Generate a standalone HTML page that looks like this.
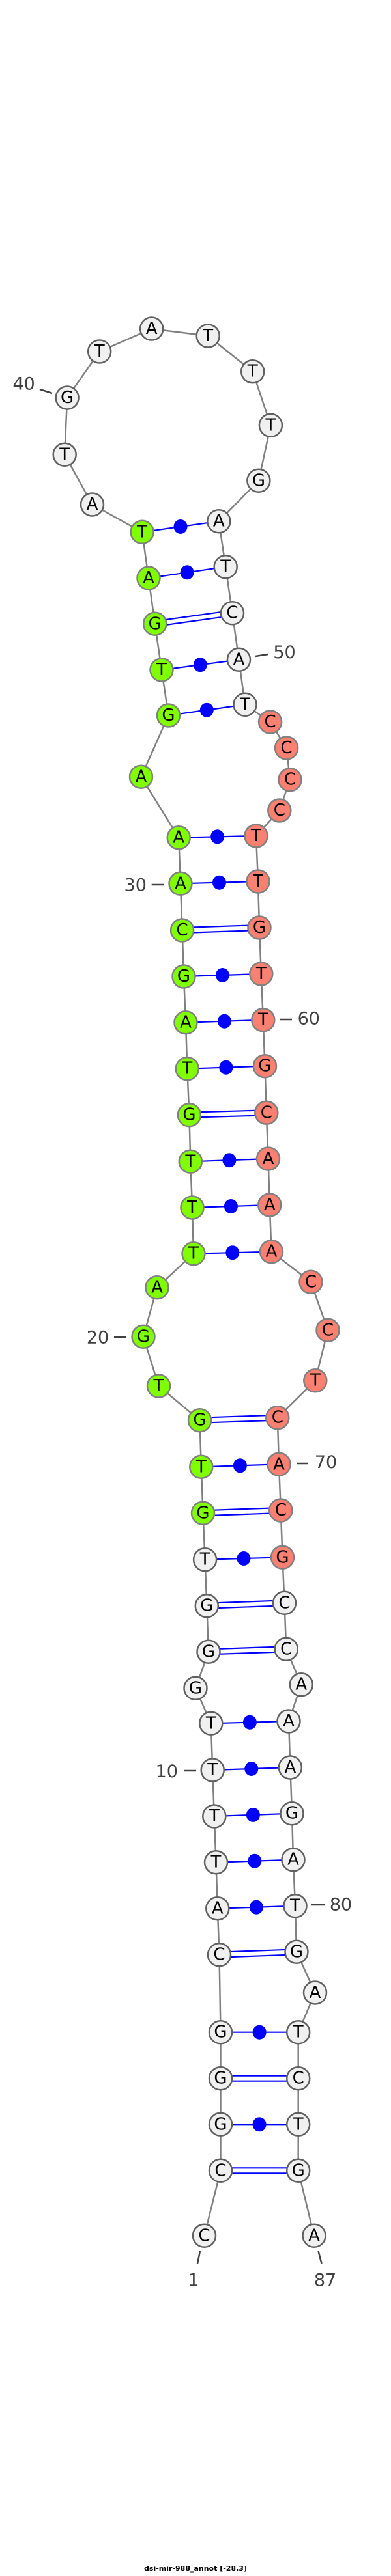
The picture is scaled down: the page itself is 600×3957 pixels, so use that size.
<!DOCTYPE html>
<html><head><meta charset="utf-8"><style>
html,body{margin:0;padding:0;background:#fff;}
svg{display:block;}
.bb{fill:none;stroke:#808080;stroke-width:2.5;}
.p{stroke:#0000ff;stroke-width:2.2;}
.d{fill:#0000ff;}
circle{stroke-width:2.5;}
.g{fill:#7fff00;stroke:#808080;}
.s{fill:#fa8072;stroke:#808080;}
.w{fill:#f0f0f0;stroke:#606060;}
.n text,text.n{font-family:"DejaVu Sans","Liberation Sans",sans-serif;font-size:26px;text-anchor:middle;dominant-baseline:central;fill:#000;}
.l{font-family:"DejaVu Sans","Liberation Sans",sans-serif;font-size:27px;fill:#404040;text-anchor:middle;dominant-baseline:central;}
.t{stroke:#404040;stroke-width:2.5;}
</style></head><body>
<svg width="600" height="3957" viewBox="0 0 600 3957" xmlns="http://www.w3.org/2000/svg">
<polyline class="bb" points="313.5,3434.3 338.5,3334.3 338.5,3263.3 338.5,3192.7 338.5,3121.7 336.5,3002.7 333.8,2931.7 331.5,2860.7 328.8,2790 326.2,2719 323.8,2647.3 300,2593.3 320,2537.3 317.3,2466.7 314.6,2395.7 311.5,2324.3 308.8,2253.3 306.5,2181.7 243.5,2129 220,2053.3 241,1977.7 297,1925.7 295,1855 292.3,1784.3 290.4,1712.7 287.3,1641.7 285,1570.7 282,1500 279.6,1429 277,1357.3 274.2,1286.7 216.5,1193.3 258.5,1099 248,1029 237.7,958.3 228,888 218.1,817.3 141.5,775 99.2,698.3 103.1,611 152.7,540 232.7,505 319.2,516 387.7,570.7 415.4,653.3 396.9,738.3 335.8,800.7 346.2,870.7 356.5,941.7 366.5,1013.3 376,1082.3 414.6,1109 439.6,1149 445,1197.7 428.8,1245 393,1284 396,1354 398,1425 400.8,1496 403.8,1566.7 406.5,1637.7 408.8,1709.3 411.5,1780 413.8,1851 416.5,1922.7 477,1969.3 503,2043.3 483.8,2120.7 425.8,2177.7 428,2249.3 430.8,2320 433.5,2392.3 436.5,2462.3 439.2,2533.3 462.3,2587.7 443,2644 445.4,2715 448,2785.7 450,2856.7 453,2927.7 455,2998.3 483.5,3061 457.7,3121.7 457.7,3192.7 457.7,3263.3 457.7,3334.3 482,3434.3"/>
<!-- pairs: double -->
<g class="p">
<line x1="338.5" y1="3330.3" x2="457.7" y2="3330.3"/><line x1="338.5" y1="3338.3" x2="457.7" y2="3338.3"/>
<line x1="338.5" y1="3188.7" x2="457.7" y2="3188.7"/><line x1="338.5" y1="3196.7" x2="457.7" y2="3196.7"/>
<line x1="336.5" y1="2998.7" x2="455" y2="2994.3"/><line x1="336.5" y1="3006.7" x2="455" y2="3002.3"/>
<line x1="320" y1="2533.3" x2="439.2" y2="2529.3"/><line x1="320" y1="2541.3" x2="439.2" y2="2537.3"/>
<line x1="317.3" y1="2462.7" x2="436.5" y2="2458.3"/><line x1="317.3" y1="2470.7" x2="436.5" y2="2466.3"/>
<line x1="311.5" y1="2320.3" x2="430.8" y2="2316"/><line x1="311.5" y1="2328.3" x2="430.8" y2="2324"/>
<line x1="306.5" y1="2177.7" x2="425.8" y2="2173.7"/><line x1="306.5" y1="2185.7" x2="425.8" y2="2181.7"/>
<line x1="290.4" y1="1708.7" x2="408.8" y2="1705.3"/><line x1="290.4" y1="1716.7" x2="408.8" y2="1713.3"/>
<line x1="279.6" y1="1425" x2="398" y2="1421"/><line x1="279.6" y1="1433" x2="398" y2="1429"/>
<line x1="237.7" y1="954.3" x2="356.5" y2="937.7"/><line x1="237.7" y1="962.3" x2="356.5" y2="945.7"/>
</g>
<!-- pairs: single with dot -->
<g class="p">
<line x1="338.5" y1="3263.3" x2="457.7" y2="3263.3"/>
<line x1="338.5" y1="3121.7" x2="457.7" y2="3121.7"/>
<line x1="333.8" y1="2931.7" x2="453" y2="2927.7"/>
<line x1="331.5" y1="2860.7" x2="450" y2="2856.7"/>
<line x1="328.8" y1="2790" x2="448" y2="2785.7"/>
<line x1="326.2" y1="2719" x2="445.4" y2="2715"/>
<line x1="323.8" y1="2647.3" x2="443" y2="2644"/>
<line x1="314.6" y1="2395.7" x2="433.5" y2="2392.3"/>
<line x1="308.8" y1="2253.3" x2="428" y2="2249.3"/>
<line x1="297" y1="1925.7" x2="416.5" y2="1922.7"/>
<line x1="295" y1="1855" x2="413.8" y2="1851"/>
<line x1="292.3" y1="1784.3" x2="411.5" y2="1780"/>
<line x1="287.3" y1="1641.7" x2="406.5" y2="1637.7"/>
<line x1="285" y1="1570.7" x2="403.8" y2="1566.7"/>
<line x1="282" y1="1500" x2="400.8" y2="1496"/>
<line x1="277" y1="1357.3" x2="396" y2="1354"/>
<line x1="274.2" y1="1286.7" x2="393" y2="1284"/>
<line x1="258.5" y1="1099" x2="376" y2="1082.3"/>
<line x1="248" y1="1029" x2="366.5" y2="1013.3"/>
<line x1="228" y1="888" x2="346.2" y2="870.7"/>
<line x1="218.1" y1="817.3" x2="335.8" y2="800.7"/>
</g>
<g class="d">
<ellipse cx="398.1" cy="3263.3" rx="10.5" ry="11"/>
<ellipse cx="398.1" cy="3121.7" rx="10.5" ry="11"/>
<ellipse cx="393.4" cy="2929.7" rx="10.5" ry="11"/>
<ellipse cx="390.8" cy="2858.7" rx="10.5" ry="11"/>
<ellipse cx="388.4" cy="2787.9" rx="10.5" ry="11"/>
<ellipse cx="385.8" cy="2717" rx="10.5" ry="11"/>
<ellipse cx="383.4" cy="2645.7" rx="10.5" ry="11"/>
<ellipse cx="374" cy="2394" rx="10.5" ry="11"/>
<ellipse cx="368.4" cy="2251.3" rx="10.5" ry="11"/>
<ellipse cx="356.8" cy="1924.2" rx="10.5" ry="11"/>
<ellipse cx="354.4" cy="1853" rx="10.5" ry="11"/>
<ellipse cx="351.9" cy="1782.2" rx="10.5" ry="11"/>
<ellipse cx="346.9" cy="1639.7" rx="10.5" ry="11"/>
<ellipse cx="344.4" cy="1568.7" rx="10.5" ry="11"/>
<ellipse cx="341.4" cy="1498" rx="10.5" ry="11"/>
<ellipse cx="336.5" cy="1355.7" rx="10.5" ry="11"/>
<ellipse cx="333.6" cy="1285.3" rx="10.5" ry="11"/>
<ellipse cx="317.3" cy="1090.7" rx="10.5" ry="11"/>
<ellipse cx="307.3" cy="1021.2" rx="10.5" ry="11"/>
<ellipse cx="287.1" cy="879.3" rx="10.5" ry="11"/>
<ellipse cx="277" cy="809" rx="10.5" ry="11"/>
</g>
<!-- nodes -->
<g class="n">
<circle class="w" cx="313.5" cy="3434.3" r="17.5"/><text x="313.5" y="3434.3">C</text>
<circle class="w" cx="338.5" cy="3334.3" r="17.5"/><text x="338.5" y="3334.3">C</text>
<circle class="w" cx="338.5" cy="3263.3" r="17.5"/><text x="338.5" y="3263.3">G</text>
<circle class="w" cx="338.5" cy="3192.7" r="17.5"/><text x="338.5" y="3192.7">G</text>
<circle class="w" cx="338.5" cy="3121.7" r="17.5"/><text x="338.5" y="3121.7">G</text>
<circle class="w" cx="336.5" cy="3002.7" r="17.5"/><text x="336.5" y="3002.7">C</text>
<circle class="w" cx="333.8" cy="2931.7" r="17.5"/><text x="333.8" y="2931.7">A</text>
<circle class="w" cx="331.5" cy="2860.7" r="17.5"/><text x="331.5" y="2860.7">T</text>
<circle class="w" cx="328.8" cy="2790" r="17.5"/><text x="328.8" y="2790">T</text>
<circle class="w" cx="326.2" cy="2719" r="17.5"/><text x="326.2" y="2719">T</text>
<circle class="w" cx="323.8" cy="2647.3" r="17.5"/><text x="323.8" y="2647.3">T</text>
<circle class="w" cx="300" cy="2593.3" r="17.5"/><text x="300" y="2593.3">G</text>
<circle class="w" cx="320" cy="2537.3" r="17.5"/><text x="320" y="2537.3">G</text>
<circle class="w" cx="317.3" cy="2466.7" r="17.5"/><text x="317.3" y="2466.7">G</text>
<circle class="w" cx="314.6" cy="2395.7" r="17.5"/><text x="314.6" y="2395.7">T</text>
<circle class="g" cx="311.5" cy="2324.3" r="17.5"/><text x="311.5" y="2324.3">G</text>
<circle class="g" cx="308.8" cy="2253.3" r="17.5"/><text x="308.8" y="2253.3">T</text>
<circle class="g" cx="306.5" cy="2181.7" r="17.5"/><text x="306.5" y="2181.7">G</text>
<circle class="g" cx="243.5" cy="2129" r="17.5"/><text x="243.5" y="2129">T</text>
<circle class="g" cx="220" cy="2053.3" r="17.5"/><text x="220" y="2053.3">G</text>
<circle class="g" cx="241" cy="1977.7" r="17.5"/><text x="241" y="1977.7">A</text>
<circle class="g" cx="297" cy="1925.7" r="17.5"/><text x="297" y="1925.7">T</text>
<circle class="g" cx="295" cy="1855" r="17.5"/><text x="295" y="1855">T</text>
<circle class="g" cx="292.3" cy="1784.3" r="17.5"/><text x="292.3" y="1784.3">T</text>
<circle class="g" cx="290.4" cy="1712.7" r="17.5"/><text x="290.4" y="1712.7">G</text>
<circle class="g" cx="287.3" cy="1641.7" r="17.5"/><text x="287.3" y="1641.7">T</text>
<circle class="g" cx="285" cy="1570.7" r="17.5"/><text x="285" y="1570.7">A</text>
<circle class="g" cx="282" cy="1500" r="17.5"/><text x="282" y="1500">G</text>
<circle class="g" cx="279.6" cy="1429" r="17.5"/><text x="279.6" y="1429">C</text>
<circle class="g" cx="277" cy="1357.3" r="17.5"/><text x="277" y="1357.3">A</text>
<circle class="g" cx="274.2" cy="1286.7" r="17.5"/><text x="274.2" y="1286.7">A</text>
<circle class="g" cx="216.5" cy="1193.3" r="17.5"/><text x="216.5" y="1193.3">A</text>
<circle class="g" cx="258.5" cy="1099" r="17.5"/><text x="258.5" y="1099">G</text>
<circle class="g" cx="248" cy="1029" r="17.5"/><text x="248" y="1029">T</text>
<circle class="g" cx="237.7" cy="958.3" r="17.5"/><text x="237.7" y="958.3">G</text>
<circle class="g" cx="228" cy="888" r="17.5"/><text x="228" y="888">A</text>
<circle class="g" cx="218.1" cy="817.3" r="17.5"/><text x="218.1" y="817.3">T</text>
<circle class="w" cx="141.5" cy="775" r="17.5"/><text x="141.5" y="775">A</text>
<circle class="w" cx="99.2" cy="698.3" r="17.5"/><text x="99.2" y="698.3">T</text>
<circle class="w" cx="103.1" cy="611" r="17.5"/><text x="103.1" y="611">G</text>
<circle class="w" cx="152.7" cy="540" r="17.5"/><text x="152.7" y="540">T</text>
<circle class="w" cx="232.7" cy="505" r="17.5"/><text x="232.7" y="505">A</text>
<circle class="w" cx="319.2" cy="516" r="17.5"/><text x="319.2" y="516">T</text>
<circle class="w" cx="387.7" cy="570.7" r="17.5"/><text x="387.7" y="570.7">T</text>
<circle class="w" cx="415.4" cy="653.3" r="17.5"/><text x="415.4" y="653.3">T</text>
<circle class="w" cx="396.9" cy="738.3" r="17.5"/><text x="396.9" y="738.3">G</text>
<circle class="w" cx="335.8" cy="800.7" r="17.5"/><text x="335.8" y="800.7">A</text>
<circle class="w" cx="346.2" cy="870.7" r="17.5"/><text x="346.2" y="870.7">T</text>
<circle class="w" cx="356.5" cy="941.7" r="17.5"/><text x="356.5" y="941.7">C</text>
<circle class="w" cx="366.5" cy="1013.3" r="17.5"/><text x="366.5" y="1013.3">A</text>
<circle class="w" cx="376" cy="1082.3" r="17.5"/><text x="376" y="1082.3">T</text>
<circle class="s" cx="414.6" cy="1109" r="17.5"/><text x="414.6" y="1109">C</text>
<circle class="s" cx="439.6" cy="1149" r="17.5"/><text x="439.6" y="1149">C</text>
<circle class="s" cx="445" cy="1197.7" r="17.5"/><text x="445" y="1197.7">C</text>
<circle class="s" cx="428.8" cy="1245" r="17.5"/><text x="428.8" y="1245">C</text>
<circle class="s" cx="393" cy="1284" r="17.5"/><text x="393" y="1284">T</text>
<circle class="s" cx="396" cy="1354" r="17.5"/><text x="396" y="1354">T</text>
<circle class="s" cx="398" cy="1425" r="17.5"/><text x="398" y="1425">G</text>
<circle class="s" cx="400.8" cy="1496" r="17.5"/><text x="400.8" y="1496">T</text>
<circle class="s" cx="403.8" cy="1566.7" r="17.5"/><text x="403.8" y="1566.7">T</text>
<circle class="s" cx="406.5" cy="1637.7" r="17.5"/><text x="406.5" y="1637.7">G</text>
<circle class="s" cx="408.8" cy="1709.3" r="17.5"/><text x="408.8" y="1709.3">C</text>
<circle class="s" cx="411.5" cy="1780" r="17.5"/><text x="411.5" y="1780">A</text>
<circle class="s" cx="413.8" cy="1851" r="17.5"/><text x="413.8" y="1851">A</text>
<circle class="s" cx="416.5" cy="1922.7" r="17.5"/><text x="416.5" y="1922.7">A</text>
<circle class="s" cx="477" cy="1969.3" r="17.5"/><text x="477" y="1969.3">C</text>
<circle class="s" cx="503" cy="2043.3" r="17.5"/><text x="503" y="2043.3">C</text>
<circle class="s" cx="483.8" cy="2120.7" r="17.5"/><text x="483.8" y="2120.7">T</text>
<circle class="s" cx="425.8" cy="2177.7" r="17.5"/><text x="425.8" y="2177.7">C</text>
<circle class="s" cx="428" cy="2249.3" r="17.5"/><text x="428" y="2249.3">A</text>
<circle class="s" cx="430.8" cy="2320" r="17.5"/><text x="430.8" y="2320">C</text>
<circle class="s" cx="433.5" cy="2392.3" r="17.5"/><text x="433.5" y="2392.3">G</text>
<circle class="w" cx="436.5" cy="2462.3" r="17.5"/><text x="436.5" y="2462.3">C</text>
<circle class="w" cx="439.2" cy="2533.3" r="17.5"/><text x="439.2" y="2533.3">C</text>
<circle class="w" cx="462.3" cy="2587.7" r="17.5"/><text x="462.3" y="2587.7">A</text>
<circle class="w" cx="443" cy="2644" r="17.5"/><text x="443" y="2644">A</text>
<circle class="w" cx="445.4" cy="2715" r="17.5"/><text x="445.4" y="2715">A</text>
<circle class="w" cx="448" cy="2785.7" r="17.5"/><text x="448" y="2785.7">G</text>
<circle class="w" cx="450" cy="2856.7" r="17.5"/><text x="450" y="2856.7">A</text>
<circle class="w" cx="453" cy="2927.7" r="17.5"/><text x="453" y="2927.7">T</text>
<circle class="w" cx="455" cy="2998.3" r="17.5"/><text x="455" y="2998.3">G</text>
<circle class="w" cx="483.5" cy="3061" r="17.5"/><text x="483.5" y="3061">A</text>
<circle class="w" cx="457.7" cy="3121.7" r="17.5"/><text x="457.7" y="3121.7">T</text>
<circle class="w" cx="457.7" cy="3192.7" r="17.5"/><text x="457.7" y="3192.7">C</text>
<circle class="w" cx="457.7" cy="3263.3" r="17.5"/><text x="457.7" y="3263.3">T</text>
<circle class="w" cx="457.7" cy="3334.3" r="17.5"/><text x="457.7" y="3334.3">G</text>
<circle class="w" cx="482" cy="3434.3" r="17.5"/><text x="482" y="3434.3">A</text>
</g>
<!-- labels -->
<line class="t" x1="61" y1="598" x2="80" y2="604"/><text class="l" x="36.5" y="590">40</text>
<line class="t" x1="392" y1="1008" x2="411.5" y2="1005"/><text class="l" x="436.5" y="1002.7">50</text>
<line class="t" x1="232.7" y1="1359" x2="252" y2="1359"/><text class="l" x="207.7" y="1360">30</text>
<line class="t" x1="430" y1="1566" x2="448" y2="1566"/><text class="l" x="473.8" y="1565">60</text>
<line class="t" x1="175" y1="2054" x2="194" y2="2054"/><text class="l" x="150" y="2055">20</text>
<line class="t" x1="455" y1="2248" x2="473" y2="2248"/><text class="l" x="500" y="2246.7">70</text>
<line class="t" x1="282" y1="2720" x2="301" y2="2720"/><text class="l" x="255.8" y="2721.7">10</text>
<line class="t" x1="478" y1="2926" x2="498" y2="2926"/><text class="l" x="523" y="2926">80</text>
<line class="t" x1="307" y1="3458" x2="303" y2="3477"/><text class="l" x="297" y="3503">1</text>
<line class="t" x1="488.5" y1="3458" x2="493.5" y2="3477"/><text class="l" x="499" y="3503">87</text>
<text x="300" y="3949" font-family="'DejaVu Sans','Liberation Sans',sans-serif" font-size="11" font-weight="bold" text-anchor="middle" fill="#000">dsi-mir-988_annot [-28.3]</text>
</svg>
</body></html>
